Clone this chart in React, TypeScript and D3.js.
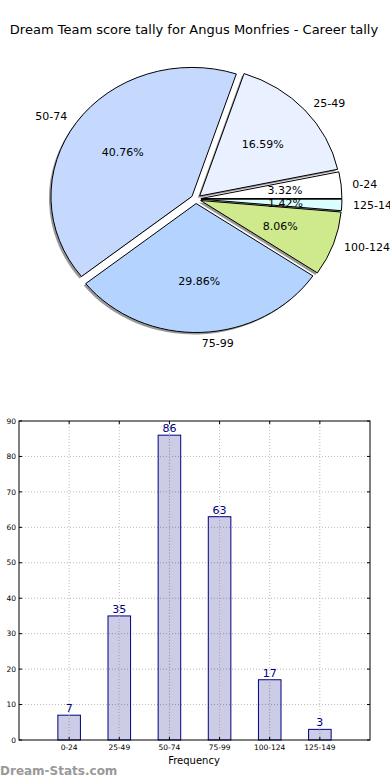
import * as d3 from 'd3';
import React from 'react';

const categories = ['0-24', '25-49', '50-74', '75-99', '100-124', '125-149'];
const counts = [7, 35, 86, 63, 17, 3];
const sliceColors = ['#ffffff', '#e9f0ff', '#c5d9ff', '#b4d4ff', '#cfea8c', '#d9ffff'];
const yTicks = [0, 10, 20, 30, 40, 50, 60, 70, 80, 90];

const W = 390;
const H = 780;
const font = 'DejaVu Sans, sans-serif';

// pie geometry (matplotlib axes were not square, so the pie is an ellipse)
const cx = 196;
const cy = 199;
const rx = 141;
const ry = 129;
const explode = 0.035;

// bar panel
const bar = { left: 19, right: 370, top: 421, bottom: 740 };

function App() {
  const total = d3.sum(counts);
  const pie = d3.pie<number>().sort(null).startAngle(Math.PI / 2).endAngle(Math.PI / 2 - 2 * Math.PI);
  const arcs = pie(counts);
  const arc = d3.arc<d3.PieArcDatum<number>>().innerRadius(0).outerRadius(rx);
  const sy = ry / rx;

  const pt = (a: number, k: number) => [Math.sin(a) * rx * k, -Math.cos(a) * ry * k];

  const x = d3.scaleLinear().domain([0, 7]).range([bar.left, bar.right]);
  const y = d3.scaleLinear().domain([0, 90]).range([bar.bottom, bar.top]);
  const bw = x(0.45) - x(0);

  return (
    <svg width={W} height={H} style={{ position: 'absolute', left: 0, top: 0, background: '#fff' }} fontFamily={font}>
      <text x={194} y={34} textAnchor="middle" fontSize={13} fill="#000">
        Dream Team score tally for Angus Monfries - Career tally
      </text>

      {/* shadows */}
      {arcs.map((d, i) => {
        const m = (d.startAngle + d.endAngle) / 2;
        const [ox, oy] = pt(m, explode);
        return (
          <path
            key={'s' + i}
            d={arc(d) || ''}
            transform={`translate(${cx + ox - 2},${cy + oy + 2}) scale(1,${sy})`}
            fill="#000"
            opacity={0.4}
          />
        );
      })}
      {arcs.map((d, i) => {
        const m = (d.startAngle + d.endAngle) / 2;
        const [ox, oy] = pt(m, explode);
        return (
          <path
            key={'w' + i}
            d={arc(d) || ''}
            transform={`translate(${cx + ox},${cy + oy}) scale(1,${sy})`}
            fill={sliceColors[i]}
            stroke="#000"
            strokeWidth={1}
            vectorEffect="non-scaling-stroke"
          />
        );
      })}
      {arcs.map((d, i) => {
        const m = (d.startAngle + d.endAngle) / 2;
        const [ox, oy] = pt(m, explode);
        const [lx, ly] = pt(m, 1.08);
        const [px, py] = pt(m, 0.6);
        return (
          <g key={'l' + i} fontSize={11} fill="#000">
            <text x={cx + ox + lx} y={cy + oy + ly} dy="0.35em" textAnchor={lx < 0 ? 'end' : 'start'}>
              {categories[i]}
            </text>
            <text x={cx + ox + px} y={cy + oy + py} dy="0.35em" textAnchor="middle">
              {((counts[i] / total) * 100).toFixed(2) + '%'}
            </text>
          </g>
        );
      })}

      {/* bar chart */}
      <g>
        {yTicks.slice(1, -1).map(t => (
          <line key={'gy' + t} x1={bar.left} x2={bar.right} y1={y(t)} y2={y(t)} stroke="#b8b8b8" strokeDasharray="1,2" />
        ))}
        {categories.map((c, i) => (
          <line key={'gx' + c} x1={x(i + 1)} x2={x(i + 1)} y1={bar.top} y2={bar.bottom} stroke="#b8b8b8" strokeDasharray="1,2" />
        ))}
        {counts.map((v, i) => (
          <rect
            key={'b' + i}
            x={x(i + 1) - bw / 2}
            y={y(v)}
            width={bw}
            height={y(0) - y(v)}
            fill="#000080"
            fillOpacity={0.2}
            stroke="#000080"
            strokeWidth={1}
          />
        ))}
        {categories.map((c, i) => (
          <line key={'gx2' + c} x1={x(i + 1)} x2={x(i + 1)} y1={y(counts[i])} y2={bar.bottom} stroke="#b8b8b8" strokeDasharray="1,2" />
        ))}
        {counts.map((v, i) => (
          <text key={'v' + i} x={x(i + 1)} y={y(v) - 3} textAnchor="middle" fontSize={11} fill="#000080">
            {v}
          </text>
        ))}
        <rect x={bar.left} y={bar.top} width={bar.right - bar.left} height={bar.bottom - bar.top} fill="none" stroke="#000" strokeWidth={1} />
        {yTicks.map(t => (
          <g key={'ty' + t}>
            <line x1={bar.left} x2={bar.left + 3} y1={y(t)} y2={y(t)} stroke="#000" />
            <line x1={bar.right} x2={bar.right - 3} y1={y(t)} y2={y(t)} stroke="#000" />
            <text x={bar.left - 3} y={y(t)} dy="0.35em" textAnchor="end" fontSize={7.5} fill="#000">
              {t}
            </text>
          </g>
        ))}
        {categories.map((c, i) => (
          <g key={'tx' + c}>
            <line x1={x(i + 1)} x2={x(i + 1)} y1={bar.bottom} y2={bar.bottom - 3} stroke="#000" />
            <line x1={x(i + 1)} x2={x(i + 1)} y1={bar.top} y2={bar.top + 3} stroke="#000" />
            <text x={x(i + 1)} y={bar.bottom + 10} textAnchor="middle" fontSize={7.5} fill="#000">
              {c}
            </text>
          </g>
        ))}
        <text x={194} y={764} textAnchor="middle" fontSize={10} fill="#000">
          Frequency
        </text>
      </g>

      <text x={0} y={775} fontSize={12} fontWeight="bold" fill="#999">
        Dream-Stats.com
      </text>
    </svg>
  );
}

export default App;
